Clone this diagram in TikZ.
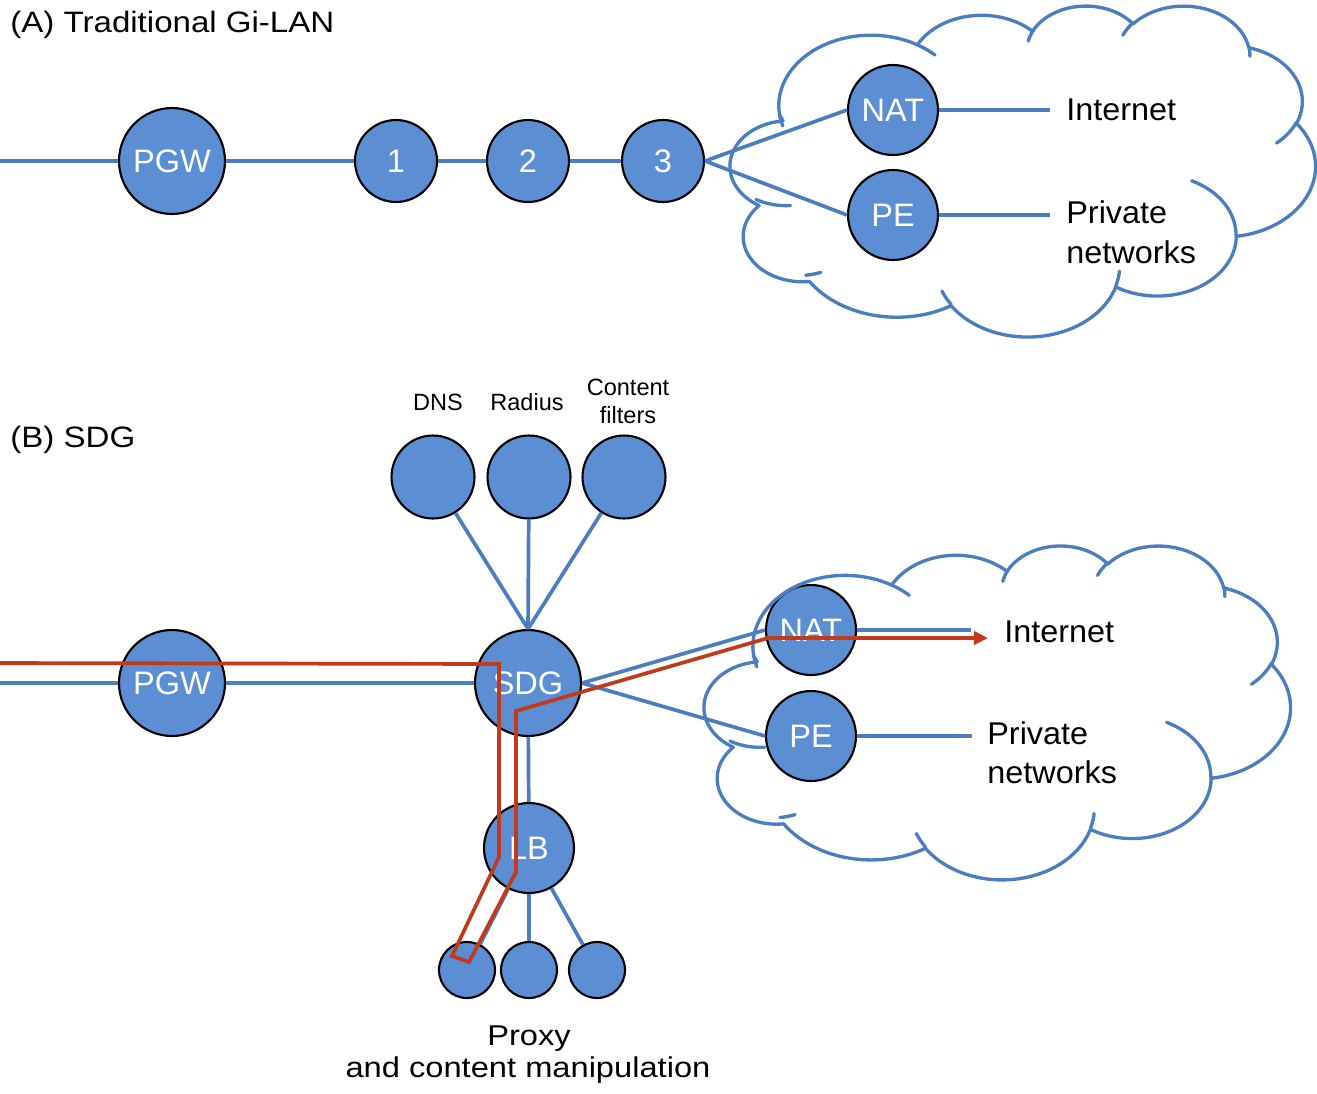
\documentclass[tikz,border=0pt]{standalone}
\usepackage{fontspec}
\setmainfont{Liberation Sans}
\usetikzlibrary{arrows.meta}
\definecolor{nodefill}{RGB}{91,142,210}
\definecolor{linkblue}{RGB}{74,126,190}
\definecolor{flowred}{RGB}{194,58,28}
\newcommand\cldmove[2]{\xdef\cpx{#1}\xdef\cpy{#2}}
\newcommand\cldarc[4]{%
  \pgfmathsetmacro\tS{atan2((#1)*sin(#3),(#2)*cos(#3))}%
  \pgfmathsetmacro\tE{atan2((#1)*sin((#3)+(#4)),(#2)*cos((#3)+(#4)))}%
  \pgfmathsetmacro\tE{\tE<\tS ? \tE+360 : \tE}%
  \pgfmathsetmacro\tE{\tE<\tS ? \tE+360 : \tE}%
  \pgfmathsetmacro\ccx{\cpx-(#1)*cos(\tS)}%
  \pgfmathsetmacro\ccy{\cpy-(#2)*sin(\tS)}%
  \draw[cloudline] plot[domain=\tS:\tE,samples=40,variable=\ang]({\ccx+(#1)*cos(\ang)},{\ccy+(#2)*sin(\ang)});%
  \pgfmathsetmacro\npx{\ccx+(#1)*cos(\tE)}%
  \pgfmathsetmacro\npy{\ccy+(#2)*sin(\tE)}%
  \xdef\cpx{\npx}\xdef\cpy{\npy}%
}
\newcommand\drawcloud{%
  \cldmove{39.00}{143.70}%
  \cldarc{67.53}{91.90}{-190.4875}{123.7805}%
  \cldarc{53.33}{72.67}{-144.1024}{89.9452}%
  \cldarc{43.65}{59.45}{-145.8079}{99.7230}%
  \cldarc{48.57}{65.95}{-130.9861}{117.2417}%
  \cldarc{53.33}{72.73}{-78.7089}{109.0269}%
  \cldarc{67.75}{92.20}{-46.2673}{130.2690}%
  \cldarc{57.85}{78.67}{0.6250}{114.0333}%
  \cldarc{67.52}{92.15}{22.4516}{115.1726}%
  \cldarc{77.20}{105.43}{66.2426}{71.2542}%
  \cldarc{43.60}{59.18}{-274.9421}{146.7356}%
  \cldarc{43.45}{59.45}{-246.8285}{152.5182}%
  \draw[cloudline] (\cpx,\cpy) -- (39.00,143.70);%
  \cldmove{46.93}{261.77}\cldarc{43.45}{59.45}{86.7420}{26.4295}%
  \cldmove{69.28}{348.99}\cldarc{43.60}{59.18}{73.6105}{11.4475}%
  \cldmove{164.78}{390.90}\cldarc{67.52}{92.15}{137.6242}{14.0811}%
  \cldmove{288.27}{347.51}\cldarc{67.52}{92.15}{6.4533}{15.9984}%
  \cldmove{341.29}{229.54}\cldarc{57.85}{78.67}{-70.2924}{70.9174}%
  \cldmove{417.98}{153.54}\cldarc{53.33}{72.73}{30.3180}{27.7515}%
  \cldmove{383.24}{54.26}\cldarc{48.57}{65.95}{-13.7443}{14.8576}%
  \cldmove{290.78}{39.52}\cldarc{48.57}{65.95}{-149.1815}{18.1943}%
  \cldmove{221.41}{47.20}\cldarc{43.65}{59.45}{-163.4943}{17.6835}%
  \cldmove{140.00}{51.92}\cldarc{67.53}{91.90}{-66.7070}{12.3194}%
  \cldmove{41.27}{157.89}\cldarc{67.53}{91.90}{157.6544}{11.8582}%
}
\begin{document}
\begin{tikzpicture}[x=0.02cm, y=-0.02cm,
  nd/.style={circle, draw=black, line width=1.2pt, fill=nodefill, inner sep=0pt, text=white, font=\fontsize{18.5}{22}\selectfont},
  ndL/.style={nd, minimum size=2.12cm},
  ndM/.style={nd, minimum size=1.8cm},
  ndS/.style={nd, minimum size=1.64cm},
  ndT/.style={nd, minimum size=1.12cm},
  link/.style={draw=linkblue, line width=2.1pt},
  cloudline/.style={draw=linkblue, line width=1.9pt, line cap=round},
  flow/.style={draw=flowred, line width=2.1pt, line join=miter},
  bigtxt/.style={inner sep=0pt, anchor=base west, font=\fontsize{17.9}{21}\selectfont, transform shape, xscale=1.03},
  ttl/.style={inner sep=0pt, anchor=base west, font=\fontsize{16.8}{20}\selectfont, transform shape, xscale=1.12},
  smalltxt/.style={inner sep=0pt, anchor=base, font=\fontsize{13.4}{16}\selectfont},
  proxytxt/.style={inner sep=0pt, anchor=base, font=\fontsize{16.3}{19}\selectfont, transform shape, xscale=1.14}
]
\useasboundingbox (0,0) rectangle (1317,1093);

% ---------- (A) ----------
\node[ndL] (pgwA) at (172,161) {PGW};
\node[ndS] (n1) at (396,161) {1};
\node[ndS] (n2) at (528,161) {2};
\node[ndS] (n3) at (663,161) {3};
\node[ndM] (natA) at (893,110) {NAT};
\node[ndM] (peA) at (893,215) {PE};
\coordinate (bA) at (0,161);
\coordinate (inA) at (1050,110);
\coordinate (pvA) at (1050,215);
\draw[link] (bA) -- (pgwA) -- (n1) -- (n2) -- (n3);
\draw[link] (n3.east) -- (natA.west);
\draw[link] (n3.east) -- (peA.west);
\draw[link] (natA) -- (inA);
\draw[link] (peA) -- (pvA);
\begin{scope}[shift={(14.532cm,-0.1cm)}, x=0.027269cm, y=-0.015324cm]
\drawcloud
\end{scope}
\node[ttl] (tA) at (10,32) {(A) Traditional Gi-LAN};
\node[bigtxt] (iA) at (1066,120) {Internet};
\node[bigtxt] (pA1) at (1066,223) {Private};
\node[bigtxt] (pA2) at (1066,263) {networks};

% ---------- (B) ----------
\node[ndL] (pgwB) at (172,683) {PGW};
\node[ndL] (sdg) at (528,683) {SDG};
\node[nd, minimum size=1.66cm] (dns) at (433,477) {};
\node[nd, minimum size=1.66cm] (rad) at (529,477) {};
\node[nd, minimum size=1.66cm] (cf) at (624,477) {};
\node[ndM] (lb) at (529,848) {LB};
\node[ndT] (p1) at (467,970) {};
\node[ndT] (p2) at (529,970) {};
\node[ndT] (p3) at (597,970) {};
\node[ndM] (natB) at (811,630) {NAT};
\node[ndM] (peB) at (811,736) {PE};
\coordinate (bB) at (0,683);
\coordinate (inB) at (971,630);
\coordinate (pvB) at (972,736);
\draw[link] (bB) -- (pgwB) -- (sdg);
\draw[link] (dns) -- (sdg.north);
\draw[link] (rad) -- (sdg.north);
\draw[link] (cf) -- (sdg.north);
\draw[link] (sdg) -- (lb);
\draw[link] (lb) -- (p1);
\draw[link] (lb) -- (p2);
\draw[link] (lb) -- (p3);
\draw[link] (sdg.east) -- (natB.west);
\draw[link] (sdg.east) -- (peB.west);
\draw[link] (natB) -- (inB);
\draw[link] (peB) -- (pvB);
\begin{scope}[shift={(14.012cm,-10.9cm)}, x=0.027315cm, y=-0.015463cm]
\drawcloud
\end{scope}
\coordinate (r0) at (0,663);
\coordinate (r1) at (499,664);
\coordinate (r2) at (499,857);
\coordinate (r3) at (452,956);
\coordinate (r4) at (469,962);
\coordinate (r5) at (516,872);
\coordinate (r6) at (516,711);
\coordinate (r7) at (768,638);
\coordinate (r8) at (988,638);
\draw[flow, -{Triangle[length=8pt,width=7.5pt]}] (r0) -- (r1) -- (r2) -- (r3) -- (r4) -- (r5) -- (r6) -- (r7) -- (r8);
\node[ttl] (tB) at (10,447) {(B) SDG};
\node[smalltxt] (ldns) at (438,410) {DNS};
\node[smalltxt] (lrad) at (527,410) {Radius};
\node[smalltxt] (lcf1) at (628,395) {Content};
\node[smalltxt] (lcf2) at (628,423) {filters};
\node[bigtxt] (iB) at (1004,642) {Internet};
\node[bigtxt] (pB1) at (987,744) {Private};
\node[bigtxt] (pB2) at (987,783) {networks};
\node[proxytxt] (px1) at (529,1045) {Proxy};
\node[proxytxt] (px2) at (528,1077) {and content manipulation};
\end{tikzpicture}
\end{document}
